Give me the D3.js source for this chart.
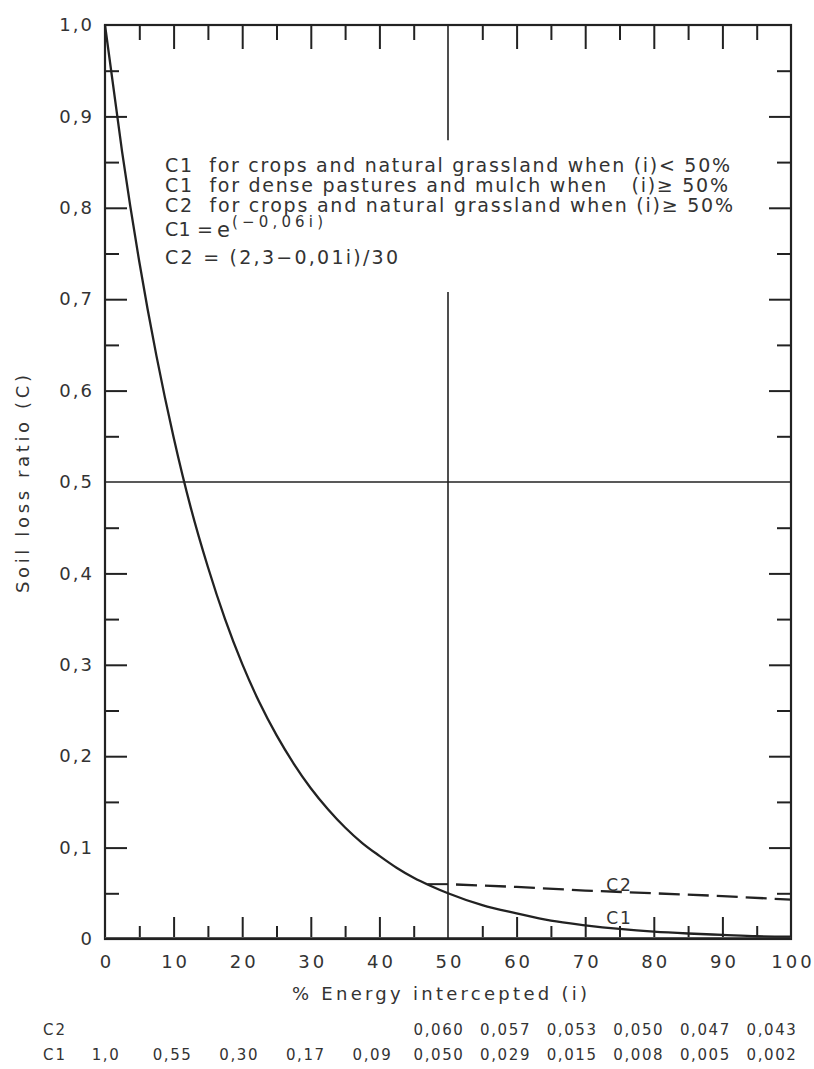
<!DOCTYPE html>
<html>
<head>
<meta charset="utf-8">
<script src="https://cdn.jsdelivr.net/npm/d3@7"></script>
<style>
  body { margin: 0; background: #fff; overflow: hidden; }
  svg { display: block; }
  text { font-family: "DejaVu Sans", sans-serif; fill: #333; }
</style>
</head>
<body>
<div id="chart"></div>
<script>
// ---- data ----
const energy = [0, 2.5, 5, 7.5, 10, 12.5, 15, 17.5, 20, 22.5, 25, 27.5, 30, 32.5, 35, 37.5, 40, 42.5, 45, 47.5, 50,
                55, 60, 65, 70, 75, 80, 85, 90, 95, 100];
const c1Ratio = [1.000, 0.861, 0.741, 0.638, 0.549, 0.472, 0.407, 0.350, 0.301, 0.259, 0.223, 0.192, 0.165, 0.142, 0.122, 0.105, 0.091, 0.078, 0.067, 0.058, 0.050,
                 0.037, 0.028, 0.020, 0.015, 0.011, 0.008, 0.006, 0.0045, 0.003, 0.0025];
const c2Energy = [50, 60, 70, 80, 90, 100];
const c2Ratio = [0.060, 0.057, 0.053, 0.050, 0.047, 0.043];
const c2JoinEnergy = [47, 50];      // short solid piece where C1 meets C2

const xTickLabels = [0, 10, 20, 30, 40, 50, 60, 70, 80, 90, 100];
const xMajorTicks = [10, 20, 30, 40, 60, 70, 80, 90];
const xMinorTicks = [5, 15, 25, 35, 45, 55, 65, 75, 85, 95];
const yTickLabels = [0, 0.1, 0.2, 0.3, 0.4, 0.5, 0.6, 0.7, 0.8, 0.9, 1.0];
const yMajorTicks = [0.1, 0.2, 0.3, 0.4, 0.6, 0.7, 0.8, 0.9];
const yMinorTicks = [0.05, 0.15, 0.25, 0.35, 0.45, 0.55, 0.65, 0.75, 0.85, 0.95];

const tableColumns = [0, 10, 20, 30, 40, 50, 60, 70, 80, 90, 100];
const tableC2 = ["", "", "", "", "", "0,060", "0,057", "0,053", "0,050", "0,047", "0,043"];
const tableC1 = ["1,0", "0,55", "0,30", "0,17", "0,09", "0,050", "0,029", "0,015", "0,008", "0,005", "0,002"];

const legendLines = [
  "C1  for crops and natural grassland when (i)< 50%",
  "C1  for dense pastures and mulch when   (i)≥ 50%",
  "C2  for crops and natural grassland when (i)≥ 50%"
];

// ---- layout ----
const width = 814, height = 1069;
const margin = { top: 25, right: 23, bottom: 130, left: 105 };
const innerWidth = width - margin.left - margin.right;
const innerHeight = height - margin.top - margin.bottom;
const ink = "#222";

const svg = d3.select("#chart")
  .append("svg")
  .attr("width", width)
  .attr("height", height)
  .attr("viewBox", [0, 0, width, height]);

const innerChart = svg
  .append("g")
  .attr("transform", `translate(${margin.left}, ${margin.top})`);

const xScale = d3.scaleLinear().domain([0, 100]).range([0, innerWidth]);
const yScale = d3.scaleLinear().domain([0, 1]).range([innerHeight, 0]);

const commaFormat = d => d === 0 ? "0" : d3.format(".1f")(d).replace(".", ",");

// ---- tick marks on all four sides (pointing inwards) ----
const addTicks = (axisFn, scale, values, size, transform) => {
  const g = innerChart.append("g")
    .attr("transform", transform)
    .call(axisFn(scale).tickValues(values).tickSize(size).tickFormat(""));
  g.select(".domain").remove();
  g.selectAll("line").attr("stroke", ink).attr("stroke-width", 2);
};
addTicks(d3.axisRight, yScale, yMajorTicks, 22, "translate(0,0)");
addTicks(d3.axisRight, yScale, yMinorTicks, 14, "translate(0,0)");
addTicks(d3.axisLeft, yScale, yMajorTicks, 22, `translate(${innerWidth},0)`);
addTicks(d3.axisLeft, yScale, yMinorTicks, 14, `translate(${innerWidth},0)`);
addTicks(d3.axisBottom, xScale, xMajorTicks, 24, "translate(0,0)");
addTicks(d3.axisBottom, xScale, xMinorTicks, 15, "translate(0,0)");
addTicks(d3.axisTop, xScale, xMajorTicks, 22, `translate(0,${innerHeight})`);
addTicks(d3.axisTop, xScale, xMinorTicks, 13, `translate(0,${innerHeight})`);

// ---- frame ----
innerChart.append("rect")
  .attr("x", 0).attr("y", 0)
  .attr("width", innerWidth).attr("height", innerHeight)
  .attr("fill", "none").attr("stroke", ink).attr("stroke-width", 2.2);

innerChart.append("line")
  .attr("x1", xScale(0)).attr("x2", xScale(100))
  .attr("y1", yScale(0) - 1.5).attr("y2", yScale(0) - 1.5)
  .attr("stroke", "#555").attr("stroke-width", 1.2);

// ---- reference lines at C = 0.5 and i = 50% ----
innerChart.append("line")
  .attr("x1", xScale(0)).attr("x2", xScale(100))
  .attr("y1", yScale(0.5)).attr("y2", yScale(0.5))
  .attr("stroke", ink).attr("stroke-width", 1.6);

[[1.0, 0.874], [0.708, 0]].forEach(([a, b]) => {
  innerChart.append("line")
    .attr("x1", xScale(50)).attr("x2", xScale(50))
    .attr("y1", yScale(a)).attr("y2", yScale(b))
    .attr("stroke", ink).attr("stroke-width", 1.6);
});

// ---- tick labels ----
const yLabels = innerChart.append("g")
  .call(d3.axisLeft(yScale).tickValues(yTickLabels).tickSize(0).tickPadding(11).tickFormat(commaFormat));
yLabels.select(".domain").remove();
yLabels.selectAll("text")
  .attr("font-family", "DejaVu Sans")
  .attr("font-size", 18)
  .attr("letter-spacing", 2)
  .attr("fill", "#333");

const xLabels = innerChart.append("g")
  .attr("transform", `translate(0, ${innerHeight})`)
  .call(d3.axisBottom(xScale).tickValues(xTickLabels).tickSize(0).tickPadding(16));
xLabels.select(".domain").remove();
xLabels.selectAll("text")
  .attr("font-family", "DejaVu Sans")
  .attr("font-size", 18)
  .attr("letter-spacing", 3)
  .attr("dx", 1.5)
  .attr("fill", "#333");

// ---- axis titles ----
svg.append("text")
  .attr("transform", `translate(29, ${margin.top + yScale(0.5) + 2}) rotate(-90)`)
  .attr("text-anchor", "middle")
  .attr("font-size", 18)
  .attr("textLength", 218)
  .attr("lengthAdjust", "spacing")
  .text("Soil loss ratio (C)");

svg.append("text")
  .attr("x", 292)
  .attr("y", 1000)
  .attr("font-size", 18)
  .attr("textLength", 295)
  .attr("lengthAdjust", "spacing")
  .text("% Energy intercepted (i)");

// ---- curves ----
const c1Data = energy.map((e, i) => ({ e, c: c1Ratio[i] }));
const c2Data = c2Energy.map((e, i) => ({ e, c: c2Ratio[i] }));

const straight = d3.line()
  .x(d => xScale(d.e))
  .y(d => yScale(d.c));

innerChart.append("path")
  .datum(c1Data)
  .attr("d", d3.line().x(d => xScale(d.e)).y(d => yScale(d.c)).curve(d3.curveMonotoneX))
  .attr("fill", "none")
  .attr("stroke", ink)
  .attr("stroke-width", 2.3);

innerChart.append("path")
  .datum(c2JoinEnergy.map(e => ({ e, c: c2Ratio[0] })))
  .attr("d", straight)
  .attr("fill", "none")
  .attr("stroke", ink)
  .attr("stroke-width", 2);

innerChart.append("path")
  .datum(c2Data)
  .attr("d", straight)
  .attr("fill", "none")
  .attr("stroke", ink)
  .attr("stroke-width", 2.3)
  .attr("stroke-dasharray", "21,8")
  .attr("stroke-dashoffset", 21);

// curve labels
innerChart.append("text")
  .attr("x", xScale(75)).attr("y", yScale(0.052))
  .attr("text-anchor", "middle").attr("font-size", 17).attr("letter-spacing", 2)
  .text("C2");
innerChart.append("text")
  .attr("x", xScale(75)).attr("y", yScale(0.0165))
  .attr("text-anchor", "middle").attr("font-size", 17).attr("letter-spacing", 2)
  .text("C1");

// ---- legend text block ----
const legendLengths = [565, 563, 568];
legendLines.forEach((t, i) => {
  svg.append("text")
    .attr("x", 165)
    .attr("y", 172 + i * 20)
    .attr("font-size", 19)
    .attr("textLength", legendLengths[i])
    .attr("lengthAdjust", "spacing")
    .style("white-space", "pre")
    .text(t);
});

svg.append("text")
  .attr("x", 165).attr("y", 236)
  .attr("font-size", 19).attr("textLength", 48).attr("lengthAdjust", "spacing")
  .text("C1 =");
svg.append("text")
  .attr("x", 217).attr("y", 237)
  .attr("font-size", 21)
  .text("e");
svg.append("text")
  .attr("x", 232).attr("y", 227)
  .attr("font-size", 15).attr("textLength", 91).attr("lengthAdjust", "spacing")
  .text("(−0,06i)");

svg.append("text")
  .attr("x", 165).attr("y", 264)
  .attr("font-size", 19).attr("textLength", 233).attr("lengthAdjust", "spacing")
  .text("C2 = (2,3−0,01i)/30");

// ---- value table under the chart ----
const tableScale = d3.scalePoint().domain(tableColumns).range([106, 772]);
const tableRows = [
  { name: "C2", values: tableC2, y: 1035 },
  { name: "C1", values: tableC1, y: 1060 }
];

tableRows.forEach(row => {
  svg.append("text")
    .attr("x", 43).attr("y", row.y)
    .attr("font-size", 15).attr("letter-spacing", 2)
    .text(row.name);

  svg.selectAll(`.cell-${row.name}`)
    .data(tableColumns.filter((d, i) => row.values[i] !== ""))
    .join("text")
      .attr("class", `cell-${row.name}`)
      .attr("x", d => tableScale(d))
      .attr("y", row.y)
      .attr("text-anchor", "middle")
      .attr("font-size", 15)
      .attr("letter-spacing", 1.6)
      .text(d => row.values[tableColumns.indexOf(d)]);
});
</script>
</body>
</html>
